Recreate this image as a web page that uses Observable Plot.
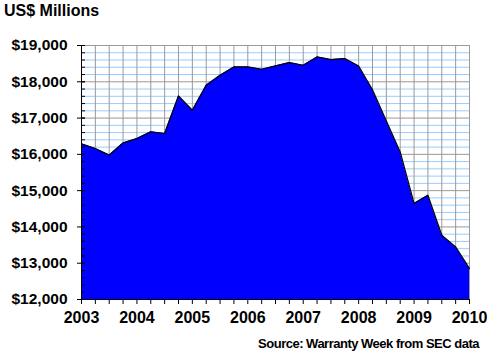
<!DOCTYPE html>
<html><head><meta charset="utf-8">
<script src="https://cdn.jsdelivr.net/npm/d3@7"></script>
<script src="https://cdn.jsdelivr.net/npm/@observablehq/plot@0.6"></script>
<style>
html,body{margin:0;padding:0;background:#fff;}
#chart{width:490px;height:353px;}
</style>
</head><body>
<div id="chart"></div>
<script>
// Quarterly points (decimal year) and warranty reserves, US$ millions
const quarters = [2003, 2003.25, 2003.5, 2003.75, 2004, 2004.25, 2004.5, 2004.75,
  2005, 2005.25, 2005.5, 2005.75, 2006, 2006.25, 2006.5, 2006.75,
  2007, 2007.25, 2007.5, 2007.75, 2008, 2008.25, 2008.5, 2008.75,
  2009, 2009.25, 2009.5, 2009.75, 2010];
const reserves = [16290, 16160, 15980, 16315, 16435, 16620, 16575, 17610,
  17216, 17905, 18180, 18410, 18410, 18346, 18437, 18530,
  18455, 18685, 18613, 18640, 18437, 17780, 16920, 16067,
  14645, 14874, 13772, 13450, 12854];
const yearTicks = [2003, 2004, 2005, 2006, 2007, 2008, 2009, 2010];
const majorY = [12000, 13000, 14000, 15000, 16000, 17000, 18000, 19000];
const minorY = d3.range(12000, 19001, 200);
const titleText = "US$ Millions";
const sourceText = "Source: Warranty Week from SEC data";

const data = quarters.map((q, i) => ({year: q, value: reserves[i]}));
const blueGrid = minorY.filter(v => v % 1000 !== 0);
const font = "'Liberation Sans', Arial, sans-serif";

const plot = Plot.plot({
  width: 490, height: 353,
  marginLeft: 81, marginRight: 21, marginTop: 45, marginBottom: 54,
  style: {fontFamily: font, fontWeight: "bold", color: "#000", background: "#fff"},
  x: {domain: [2003, 2010]},
  y: {domain: [12000, 19000]},
  marks: [
    Plot.ruleY(blueGrid, {stroke: "#99CCFF", strokeWidth: 1}),
    Plot.ruleY(majorY, {stroke: "#999999", strokeWidth: 1}),
    Plot.ruleX(quarters, {stroke: "#999999", strokeWidth: 1}),
    Plot.areaY(data, {x: "year", y1: 12000, y2: "value", fill: "#0000FF"}),
    Plot.lineY(data, {x: "year", y: "value", stroke: "#000", strokeWidth: 1.2}),
    Plot.ruleX([2003], {stroke: "#000"}),
    Plot.ruleY([12000], {stroke: "#000"}),
    Plot.axisY(minorY, {anchor: "left", tickSize: 4, dx: 4, tickFormat: () => "", label: null}),
    Plot.axisY(majorY, {anchor: "left", tickSize: 8, dx: 4, tickPadding: 10,
      tickFormat: d => "$" + d3.format(",")(d), fontSize: 15.5, label: null}),
    Plot.axisX(quarters, {anchor: "bottom", tickSize: 5, tickFormat: () => "", label: null}),
    Plot.axisX(yearTicks, {anchor: "bottom", tickSize: 0, tickPadding: 12,
      tickFormat: d => String(d), fontSize: 16, label: null})
  ]
});

const svg = d3.select(plot);
svg.append("text").attr("x", 4).attr("y", 16).attr("text-anchor", "start")
  .attr("font-family", font).attr("font-weight", "bold").attr("font-size", 16)
  .attr("fill", "#000").text(titleText);
svg.append("text").attr("x", 479).attr("y", 348).attr("text-anchor", "end")
  .attr("font-family", font).attr("font-weight", "bold").attr("font-size", 13)
  .attr("letter-spacing", "-0.5").attr("fill", "#000").text(sourceText);

document.getElementById("chart").appendChild(plot);
</script>
</body></html>
